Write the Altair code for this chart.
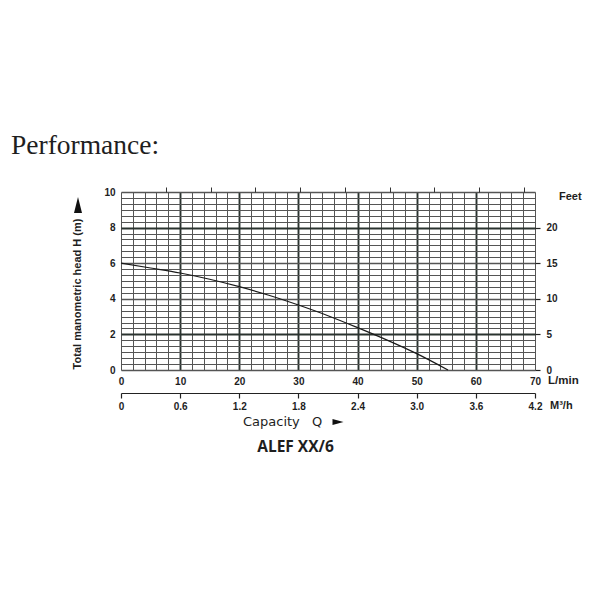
import altair as alt
import pandas as pd

# ---- data ----
q_lmin = [0, 5, 10, 15, 20, 25, 30, 35, 40, 45, 50, 55.3]
head_m = [6.0, 5.73, 5.45, 5.1, 4.68, 4.2, 3.65, 3.05, 2.38, 1.68, 0.92, 0.0]

lmin_grid = list(range(0, 71, 2))          # vertical grid, every 2 L/min
head_grid = [k / 3 for k in range(31)]     # horizontal grid, every 1/3 m
m3h_ticks = [0, 0.6, 1.2, 1.8, 2.4, 3.0, 3.6, 4.2]
feet_ticks = [0, 5, 10, 15, 20]
gpm_ticks = [2, 4, 6, 8, 10, 12, 14, 16, 18]

title_text = "Performance:"
ytitle_text = "Total manometric head H (m)"
feet_text = "Feet"
lmin_text = "L/min"
m3h_text = "M³/h"
capacity_text = "Capacity"
q_text = "Q"
model_text = "ALEF XX/6"

df = pd.DataFrame({"Q": q_lmin, "H": head_m})

TXT = "#1e1e1e"
SANS = "Liberation Sans"

curve = alt.Chart(df).mark_line(
    color="#1a1a1a", strokeWidth=1.2, interpolate="monotone"
).encode(
    x=alt.X(
        "Q:Q",
        scale=alt.Scale(domain=[0, 70], nice=False, zero=True),
        axis=alt.Axis(
            orient="bottom", values=lmin_grid, title=None, grid=True,
            gridColor={"condition": {"test": "datum.value % 10 == 0 && datum.value > 0 && datum.value < 70", "value": "#2a332f"}, "value": "#555555"},
            gridWidth={"condition": {"test": "datum.value % 10 == 0 && datum.value > 0 && datum.value < 70", "value": 1.9}, "value": 1},
            gridOpacity=1,
            labelExpr="datum.value % 10 == 0 ? datum.label : ''",
            ticks=False, tickSize=0, domain=False, labelPadding=6, labelFlush=False,
            labelFont=SANS, labelFontSize=10, labelColor=TXT, labelFontWeight="bold",
            labelOverlap=False,
        ),
    ),
    y=alt.Y(
        "H:Q",
        scale=alt.Scale(domain=[0, 10], nice=False, zero=True),
        axis=alt.Axis(
            orient="left", values=head_grid, title=None, grid=True,
            gridColor={"condition": {"test": "abs(datum.value-2)<0.01 || abs(datum.value-8)<0.01", "value": "#2a332f"}, "value": "#555555"},
            gridWidth={"condition": [
                {"test": "abs(datum.value-2)<0.01 || abs(datum.value-8)<0.01", "value": 2},
                {"test": "round(datum.value*3) % 6 == 0", "value": 1.4},
            ], "value": 1},
            gridOpacity=1,
            labelExpr="round(datum.value*3) % 6 == 0 ? format(round(datum.value), 'd') : ''",
            ticks=False, tickSize=0, domain=False, labelPadding=6, labelFlush=False,
            labelFont=SANS, labelFontSize=10, labelColor=TXT, labelFontWeight="bold",
            labelOverlap=False,
        ),
    ),
)

aux = alt.Chart(df).transform_calculate(
    m3h="datum.Q * 0.06", ft="datum.H * 2.5"
).mark_point(opacity=0).encode(
    x=alt.X(
        "m3h:Q",
        scale=alt.Scale(domain=[0, 4.2], nice=False, zero=True),
        axis=alt.Axis(
            orient="bottom", offset=23, values=m3h_ticks, title=None, grid=False,
            labelExpr="datum.value == 0 ? '0' : format(datum.value, '.1f')",
            domain=True, domainColor="#222222", domainWidth=1.2,
            ticks=True, tickColor="#222222", tickSize=5, tickWidth=1.2,
            labelPadding=3, labelFlush=False, labelFont=SANS, labelFontSize=10, labelColor=TXT,
            labelFontWeight="bold", labelOverlap=False,
        ),
    ),
    y=alt.Y(
        "ft:Q",
        scale=alt.Scale(domain=[0, 25], nice=False, zero=True),
        axis=alt.Axis(
            orient="right", values=feet_ticks, title=None, grid=False, domain=False,
            ticks=True, tickColor="#222222", tickSize=5, tickWidth=1.2,
            labelPadding=6, labelFlush=False, labelFont=SANS, labelFontSize=10, labelColor=TXT,
            labelFontWeight="bold", labelOverlap=False,
        ),
    ),
)

gpm = alt.Chart(df).transform_calculate(
    g="datum.Q / 3.785"
).mark_point(opacity=0).encode(
    x=alt.X(
        "g:Q",
        scale=alt.Scale(domain=[0, 70 / 3.785], nice=False, zero=True),
        axis=alt.Axis(
            orient="top", values=gpm_ticks, title=None, grid=False, labels=False,
            domain=False, ticks=True, tickColor="#333333", tickSize=5, tickWidth=1,
        ),
    ),
)


def label(text, x, y, size, font=SANS, weight="bold", align="left", baseline="middle", angle=0):
    kw = dict(align=align, baseline=baseline, font=font, fontSize=size,
              fontWeight=weight, color=TXT)
    if angle:
        kw["angle"] = angle
    return alt.Chart(pd.DataFrame({"t": [text]})).mark_text(**kw).encode(
        x=alt.value(x), y=alt.value(y), text="t:N"
    )


def tri(path, x, y, size):
    return alt.Chart(pd.DataFrame({"t": [0]})).mark_point(
        shape=path, filled=True, color="#111111", size=size, opacity=1, strokeWidth=0
    ).encode(x=alt.value(x), y=alt.value(y))


texts = [
    label(title_text, -110, -38, 27.5, font="Liberation Serif", weight="normal", baseline="alphabetic"),
    label(ytitle_text, -43, 102, 11, align="center", angle=270),
    tri("M 0 -1 L 0.5 1 L -0.5 1 Z", -43, 13, 256),
    label(feet_text, 438, 5, 11),
    label(lmin_text, 427, 189, 11.5),
    label(m3h_text, 429, 214, 11),
    label(capacity_text, 122, 230, 13, font="DejaVu Sans", weight="normal"),
    label(q_text, 191, 230, 13, font="DejaVu Sans", weight="normal"),
    tri("M -1 -0.55 L 1 0 L -1 0.55 Z", 217, 230, 121),
    label(model_text, 174.5, 255, 15.5, font="Open Sans", weight="bold", align="center"),
]

chart = alt.layer(curve, aux, gpm, *texts).resolve_scale(
    x="independent", y="independent"
).properties(
    width=414, height=178,
    padding={"left": 113, "top": 184, "right": 57, "bottom": 222},
    autosize=alt.AutoSizeParams(type="none"),
).configure_view(stroke="#333333", strokeWidth=1.2).configure(background="white")

chart.save("out.html", embed_options={"renderer": "svg", "actions": False})
